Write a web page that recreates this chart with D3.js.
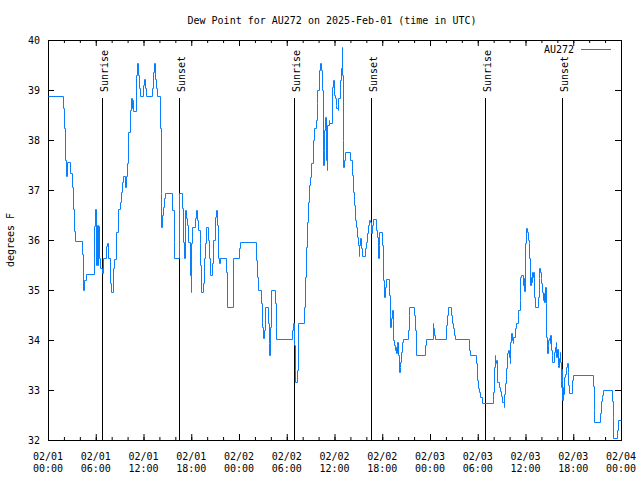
<!DOCTYPE html>
<html><head><meta charset="utf-8">
<script src="https://cdn.jsdelivr.net/npm/d3@7"></script>
<style>
body{margin:0;background:#fff}
svg text{font-family:"DejaVu Sans Mono","Liberation Mono",monospace;font-size:10px;fill:#000}
</style>
</head><body>
<svg id="chart" width="640" height="480"></svg>
<script>
// ---- data (hours since 2025-02-01 00:00 UTC, dew point in °F) ----
const hours = [0,1.88,2.01,2.13,2.26,2.38,2.76,3.01,3.14,3.26,3.39,4.27,4.45,4.58,4.77,5.73,5.83,5.96,6.02,6.15,6.27,6.33,6.40,6.52,6.77,6.96,7.28,7.40,7.53,7.78,7.90,8.15,8.34,8.59,8.78,9.03,9.16,9.28,9.41,9.66,9.78,9.91,10.07,10.29,10.41,10.54,10.66,10.73,11.04,11.16,11.29,11.42,11.54,11.95,12.08,12.21,12.33,13.13,13.21,13.33,13.46,13.59,13.71,14.05,14.14,14.21,14.30,14.39,14.55,14.71,15.59,15.77,15.89,16.47,16.90,17.02,17.15,17.27,17.40,17.52,17.65,17.81,17.94,18.03,18.15,18.44,18.65,18.78,18.90,19.07,19.15,19.28,19.48,19.61,19.73,19.86,20.11,20.23,20.36,20.61,20.74,20.95,21.07,21.20,21.32,21.45,21.58,22.33,22.45,23.24,24.00,24.17,26.09,26.25,26.38,26.81,26.93,27.01,27.13,27.22,27.64,27.72,27.81,27.89,28.06,28.51,28.64,28.69,30.65,30.77,30.86,30.98,31.02,31.32,31.45,32.15,32.28,32.40,32.53,32.65,32.78,32.90,33.08,33.24,33.40,33.62,33.74,33.83,34.00,34.12,34.25,34.37,34.54,34.62,34.71,34.84,34.96,35.04,35.12,35.25,35.37,35.66,35.79,35.88,36.00,36.13,36.25,36.38,36.50,36.63,36.75,36.84,36.92,36.97,37.04,37.13,37.22,37.29,37.97,38.17,38.30,38.42,38.55,38.67,38.80,38.92,39.05,39.14,39.26,39.39,39.51,39.85,39.98,40.10,40.23,40.35,40.48,40.56,40.68,40.81,41.18,41.31,41.43,41.56,41.65,42.02,42.11,42.18,42.31,42.44,42.81,42.94,43.03,43.11,43.24,43.31,43.40,43.49,43.57,43.65,43.74,43.82,43.90,43.99,44.07,44.19,44.28,44.41,44.53,44.66,45.20,45.32,45.41,46.00,46.13,46.20,47.42,47.54,48.33,48.42,48.55,48.67,49.96,50.09,50.21,50.59,50.72,50.89,51.02,51.14,52.85,52.97,53.78,53.90,54.03,54.15,54.28,54.48,55.95,56.03,56.11,56.20,56.29,56.41,56.70,56.83,56.95,57.08,57.24,57.33,57.42,57.49,57.62,57.74,57.87,57.99,58.08,58.20,58.29,58.37,58.46,58.62,58.75,59.00,59.12,59.25,59.33,59.46,59.71,59.80,59.87,59.96,60.05,60.21,60.30,60.38,60.46,60.59,60.67,60.75,60.84,60.96,61.05,61.13,61.21,61.59,61.67,61.75,61.84,61.93,62.00,62.09,62.18,62.25,62.38,62.47,62.55,62.63,62.72,62.80,62.88,62.97,63.05,63.13,63.22,63.35,63.38,63.64,63.73,63.81,63.89,63.97,64.06,64.14,64.23,64.31,64.39,64.48,64.52,64.57,64.64,64.73,64.81,64.89,64.98,65.06,65.14,65.23,65.31,65.39,65.48,65.86,65.98,68.49,68.58,68.65,69.33,69.46,69.58,69.66,69.78,70.87,70.96,71.04,71.50,71.59,71.97];
const dewF = [38.88,38.64,38.24,37.6,37.28,37.56,37.34,37.06,36.62,36.18,35.98,35.72,35.0,35.2,35.32,35.64,36.28,36.62,35.5,36.3,35.5,36.28,35.64,35.44,35.34,35.64,35.88,35.94,35.64,35.14,34.96,35.44,35.62,36.16,36.62,36.76,36.96,37.16,37.28,37.06,37.28,37.54,38.16,38.6,38.84,38.64,38.8,38.58,39.3,39.54,39.3,39.04,38.88,39.1,39.22,39.04,38.88,39.04,39.36,39.54,39.22,39.04,38.88,38.24,36.94,36.26,36.5,36.66,36.84,36.94,36.6,35.96,35.64,36.94,36.64,35.96,35.64,36.6,36.44,36.3,35.96,35.3,34.96,35.94,36.26,36.44,36.6,36.4,36.2,35.94,35.5,34.96,35.14,35.64,35.94,36.26,36.0,35.64,35.3,35.54,36.0,36.46,36.6,36.3,35.64,35.54,35.64,35.36,34.66,35.64,35.84,35.96,35.6,35.26,35.0,34.74,34.26,34.04,34.2,34.66,34.34,33.94,33.7,34.26,35.0,34.74,34.26,34.02,34.2,34.34,33.9,33.4,33.16,33.4,34.34,34.66,35.26,35.86,36.36,36.76,37.1,37.26,37.54,38.0,38.24,38.4,38.74,39.0,39.4,39.54,39.4,39.0,37.5,37.8,38.2,38.46,37.6,37.4,38.3,38.4,38.34,39.06,39.2,38.9,38.84,38.7,38.64,38.6,38.84,39.0,39.2,39.44,39.86,39.3,38.0,37.46,37.6,37.76,37.6,37.3,36.96,36.7,36.4,36.26,36.06,35.9,35.68,35.9,36.04,35.84,35.68,35.84,35.96,36.14,36.3,36.4,36.36,36.14,36.3,36.42,36.2,36.06,35.64,35.9,36.16,35.9,35.2,34.86,35.06,35.22,34.9,34.5,34.26,34.44,34.6,34.4,34.0,33.9,33.8,33.86,33.74,33.9,33.96,33.7,33.36,33.46,33.56,33.76,33.96,34.02,34.2,34.5,34.66,34.5,34.2,33.7,33.9,34.02,34.34,34.24,34.1,34.02,34.3,34.5,34.66,34.5,34.34,34.24,34.1,34.02,33.8,33.7,33.54,33.2,33.04,32.96,32.86,32.74,32.96,33.46,33.7,33.54,33.6,33.16,33.06,32.98,32.88,32.76,32.66,32.92,33.14,33.44,33.74,33.8,33.66,33.54,33.96,34.14,34.0,33.94,34.06,34.24,34.34,34.5,34.6,34.8,35.26,35.3,35.1,35.24,34.98,35.94,36.24,36.16,36.0,35.94,35.64,35.1,35.26,35.16,35.36,35.26,35.36,34.86,34.66,34.86,35.24,35.44,35.36,35.24,35.14,34.96,34.8,34.94,34.76,35.06,34.74,34.06,33.74,33.9,34.0,34.04,33.94,34.1,33.8,33.7,33.56,33.76,33.86,33.96,33.66,33.83,33.5,33.46,33.63,33.76,33.56,33.2,33.06,33.43,32.8,33.06,32.93,33.26,33.33,33.4,33.46,33.54,33.36,33.1,32.94,33.2,33.3,33.08,32.6,32.35,32.53,32.77,32.87,32.9,33.01,32.77,32.47,32.05,32.2,32.4,32.4];
const sunLabels = ["Sunrise","Sunset","Sunrise","Sunset","Sunrise","Sunset"];
const sunHours = [6.83,16.47,30.87,40.56,54.85,64.64];
const yTicks = [32,33,34,35,36,37,38,39,40];
const seriesName = "AU272";
const titleText = "Dew Point for AU272 on 2025-Feb-01 (time in UTC)";
const yLabel = "degrees F";

// ---- setup ----
const t0 = Date.UTC(2025,1,1);
const toDate = h => new Date(t0 + h*3600e3);
const data = hours.map((h,i)=>({t:toDate(h), v:dewF[i]}));
const L=48, R=621, T=40, B=440;
const svg = d3.select("#chart");
const x = d3.scaleUtc().domain([toDate(0), toDate(72)]).range([L,R]);
const y = d3.scaleLinear().domain([32,40]).range([B,T]);
const major = d3.range(0,73,6).map(toDate);
const minor = d3.range(0,73,2).map(toDate);

function styleAxis(g){ g.select(".domain").remove(); g.selectAll("line").attr("stroke","#000"); g.attr("font-family",null).attr("font-size",null); }

svg.append("g").attr("transform",`translate(0,${B})`)
  .call(d3.axisBottom(x).tickValues(minor).tickSize(-3).tickFormat("")).call(styleAxis);
svg.append("g").attr("transform",`translate(0,${B})`)
  .call(d3.axisBottom(x).tickValues(major).tickSize(-6).tickFormat("")).call(styleAxis);
svg.append("g").attr("transform",`translate(0,${T})`)
  .call(d3.axisTop(x).tickValues(minor).tickSize(-3).tickFormat("")).call(styleAxis);
svg.append("g").attr("transform",`translate(0,${T})`)
  .call(d3.axisTop(x).tickValues(major).tickSize(-6).tickFormat("")).call(styleAxis);
svg.append("g").attr("transform",`translate(${L},0)`)
  .call(d3.axisLeft(y).tickValues(yTicks).tickSize(-6).tickPadding(8).tickFormat(d3.format("d"))).call(styleAxis);
svg.append("g").attr("transform",`translate(${R},0)`)
  .call(d3.axisRight(y).tickValues(yTicks).tickSize(-6).tickFormat("")).call(styleAxis);

// x tick labels (two lines)
const fmtD = d3.utcFormat("%m/%d"), fmtT = d3.utcFormat("%H:%M");
const xl = svg.append("g").selectAll("g").data(major).join("g");
xl.append("text").attr("x",d=>x(d)).attr("y",460).attr("text-anchor","middle").text(fmtD);
xl.append("text").attr("x",d=>x(d)).attr("y",472).attr("text-anchor","middle").text(fmtT);

// border
svg.append("rect").attr("x",L+0.5).attr("y",T+0.5).attr("width",R-L).attr("height",B-T)
  .attr("fill","none").attr("stroke","#000");

// sunrise / sunset
const sun = sunHours.map((h,i)=>({t:toDate(h), label:sunLabels[i]}));
svg.append("g").selectAll("line").data(sun).join("line")
  .attr("x1",d=>Math.round(x(d.t))+0.5).attr("x2",d=>Math.round(x(d.t))+0.5)
  .attr("y1",y(38.84)).attr("y2",B).attr("stroke","#000");
svg.append("g").selectAll("text").data(sun).join("text")
  .attr("transform",d=>`translate(${Math.round(x(d.t))+6},92) rotate(-90)`)
  .text(d=>d.label);

// data line
svg.append("path").datum(data)
  .attr("fill","none").attr("stroke","#0a7ffb").attr("stroke-width",1)
  .attr("d", d3.line().x(d=>Math.round(x(d.t))+0.5).y(d=>Math.round(y(d.v))+0.5).curve(d3.curveStepAfter));

// legend
svg.append("text").attr("x",574).attr("y",53).attr("text-anchor","end").text(seriesName);
svg.append("line").attr("x1",581).attr("x2",611).attr("y1",49.5).attr("y2",49.5).attr("stroke","#0a7ffb");

// title and y label
svg.append("text").attr("x",332).attr("y",24).attr("text-anchor","middle").text(titleText);
svg.append("text").attr("transform","translate(14,240) rotate(-90)").attr("text-anchor","middle").text(yLabel);
</script>
</body></html>
